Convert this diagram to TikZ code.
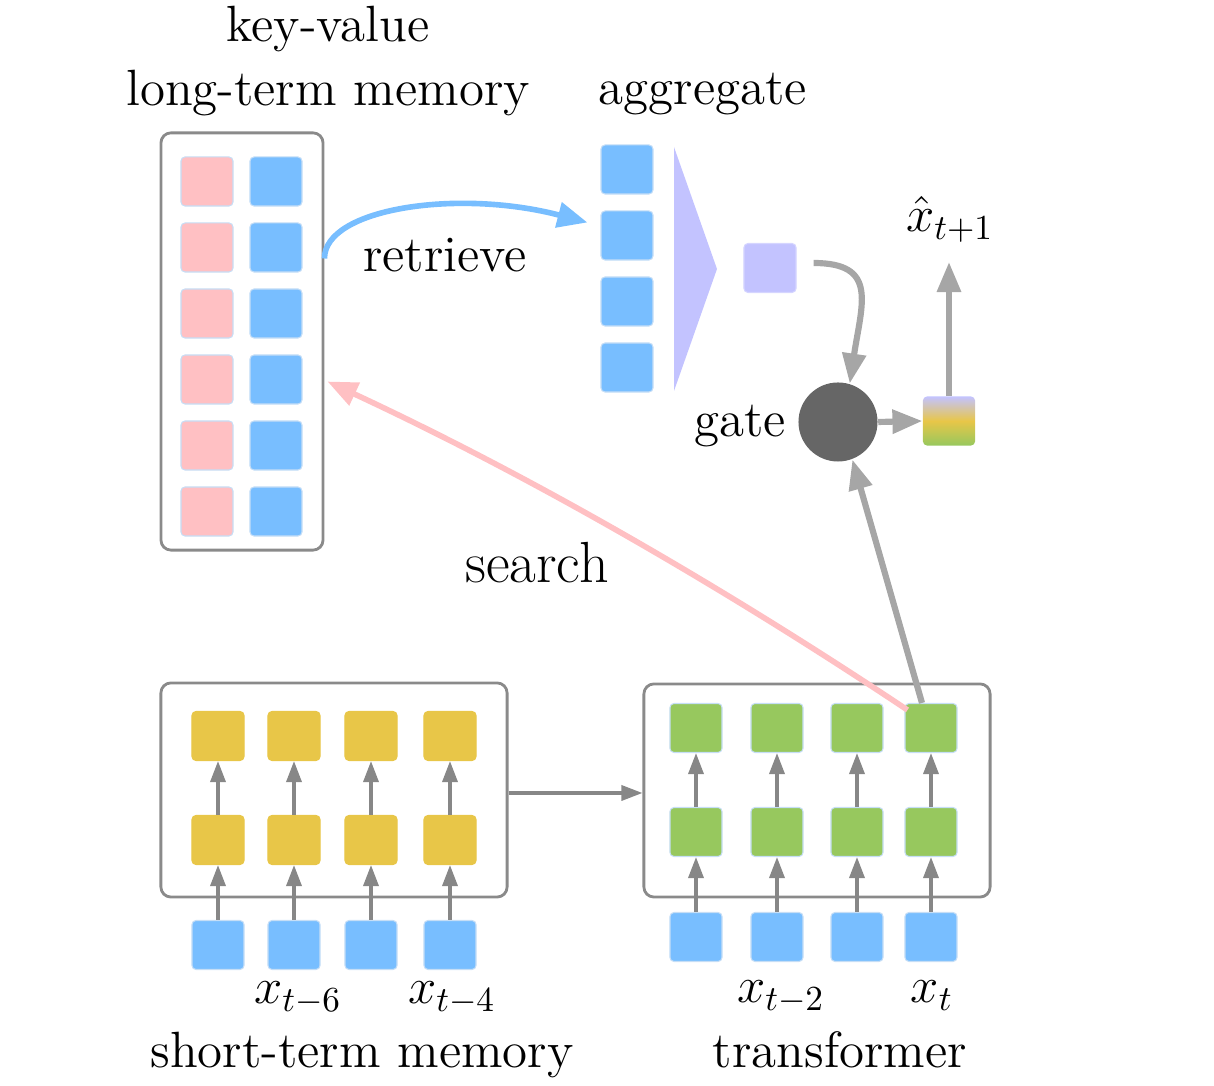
\documentclass[tikz,border=0pt]{standalone}
\usepackage{xcolor}
\usepackage{tikz}
\usetikzlibrary{positioning, arrows.meta, calc}
\definecolor{skyBlue}{HTML}{78BEFF}
\definecolor{rosePink}{HTML}{FFC0C3}
\definecolor{mustard}{HTML}{E8C648}
\definecolor{leafGreen}{HTML}{97C85E}
\definecolor{lavender}{HTML}{C3C3FF}
\definecolor{frameGray}{HTML}{8A8A8A}
\definecolor{arrowGray}{HTML}{A6A6A6}
\definecolor{thinGray}{HTML}{878787}
\definecolor{gateGray}{HTML}{666666}
\definecolor{edgeBlue}{HTML}{C6DEF6}

\begin{document}
\begin{tikzpicture}[x=0.01cm,y=-0.01cm,font=\fontsize{14.5}{18}\selectfont]
    \tikzset{sq/.style={draw=edgeBlue,line width=0.3pt,rounded corners=0.4mm,minimum width=5.2mm,minimum height=4.9mm,inner sep=0pt}, fr/.style={draw=frameGray,line width=0.8pt,rounded corners=1mm,inner sep=0pt}, up/.style={-{Triangle[length=2.1mm,width=1.5mm]},line width=0.95pt,draw=thinGray}, big/.style={-{Triangle[length=3mm,width=2.3mm]},line width=1.75pt,draw=arrowGray}}
    \useasboundingbox (0,0) rectangle (1214,1086);

    % key-value memory
    \node[fr,minimum width=16.2mm,minimum height=41.7mm] (kv) at (242,341.5) {};
    \node[align=center] (kvl) at (328,61) {key-value\\long-term memory};
    \foreach \i in {1,...,6}{
      \node[sq,fill=rosePink] (k\i) at (207,115.5+66*\i) {};
      \node[sq,fill=skyBlue] (v\i) at (276,115.5+66*\i) {};
    }

    % aggregate
    \foreach \i in {1,...,4} \node[sq,fill=skyBlue] (a\i) at (627,103.5+66*\i) {};
    \node[anchor=base] (agl) at (703,105) {aggregate};
    \fill[lavender] (674,147) -- (717,269) -- (674,391) -- cycle;
    \node[sq,fill=lavender,draw=lavender!70] (pool) at (770,268) {};

    % gate and output
    \node[circle,fill=gateGray,minimum size=7.9mm,inner sep=0pt] (gate) at (838,422) {};
    \node[anchor=base] (gl) at (740,437) {gate};
    \node[sq,draw=none,top color=lavender,bottom color=leafGreen,middle color=mustard] (out) at (949,421) {};
    \node[anchor=base] (xh) at (950,232) {$\hat{x}_{t+1}$};
    \coordinate (xt) at (949,262);

    % short-term memory and transformer
    \node[fr,minimum width=34.6mm,minimum height=21.4mm] (stm) at (334,790) {};
    \node[fr,minimum width=34.6mm,minimum height=21.3mm] (tf) at (817,790.5) {};
    \foreach \x [count=\c] in {218,294,371,450}{
      \node[sq,fill=mustard,draw=mustard] (s1\c) at (\x,736) {};
      \node[sq,fill=mustard,draw=mustard] (s2\c) at (\x,840) {};
      \node[sq,fill=skyBlue] (s3\c) at (\x,945) {};
      \draw[up] (s3\c) -- (s2\c); \draw[up] (s2\c) -- (s1\c);
    }
    \foreach \x [count=\c] in {696,777,857,931}{
      \node[sq,fill=leafGreen] (t1\c) at (\x,728) {};
      \node[sq,fill=leafGreen] (t2\c) at (\x,832) {};
      \node[sq,fill=skyBlue] (t3\c) at (\x,937) {};
      \draw[up] (t3\c) -- (t2\c); \draw[up] (t2\c) -- (t1\c);
    }
    \node[anchor=base] (l6) at (298,1004) {$x_{t-6}$};
    \node[anchor=base] (l4) at (452,1004) {$x_{t-4}$};
    \node[anchor=base] (l2) at (781,1003) {$x_{t-2}$};
    \node[anchor=base] (l0) at (932,1003) {$x_t$};
    \node[anchor=base] (stml) at (362,1068) {short-term memory};
    \node[anchor=base] (tfl) at (840,1068) {transformer};
    \draw[up] ($(stm.east)+(0,3)$) -- ($(tf.west)+(0,2.5)$);

    % retrieve / search
    \draw[-{Triangle[length=3mm,width=2.5mm]},line width=1.6pt,draw=skyBlue] ($(kv.east)+(0,-83)$) .. controls +(0,-50) and +(-130,-34) .. ($(a2.west)+(-13,-13)$);
    \node[anchor=base] (rl) at (445,272) {retrieve};
    \draw[-{Triangle[length=3mm,width=2.4mm]},line width=1.6pt,draw=rosePink] ($(t14.north west)+(3,7)$) .. controls +(-186,-124) and +(202,94) .. ($(kv.east)+(3,40)$);
    \node[anchor=base,font=\fontsize{16.5}{20}\selectfont] (sl) at (537,583) {search};

    % into the gate and out
    \draw[big] ($(pool.east)+(17,-5)$) .. controls +(65,0) and +(12,-80) .. (gate.73);
    \draw[big] ($(t14.north)+(-9,0)$) -- (gate.291);
    \draw[big] (gate.east) -- (out.west);
    \draw[big] (out.north) -- (xt);
\end{tikzpicture}
\end{document}
